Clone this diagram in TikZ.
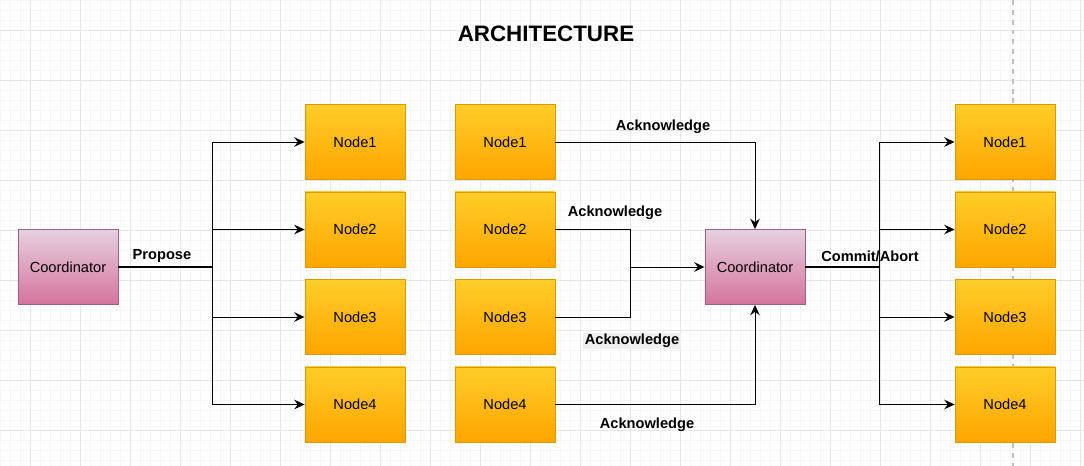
\documentclass[tikz,border=0pt]{standalone}
\usepackage{fontspec}
\setmainfont{Liberation Sans}
\usetikzlibrary{arrows.meta}

\definecolor{coordtop}{HTML}{E6D0DE}
\definecolor{coordbot}{HTML}{D5739D}
\definecolor{coordline}{HTML}{996185}
\definecolor{peertop}{HTML}{FFCD28}
\definecolor{peerbot}{HTML}{FFA500}
\definecolor{peerline}{HTML}{D79B00}
\definecolor{minorgrid}{HTML}{F5F5F5}
\definecolor{majorgrid}{HTML}{E6E6E6}
\definecolor{ackbg}{HTML}{EFEFEF}

\tikzset{
    coordbox/.style={draw=coordline, top color=coordtop, bottom color=coordbot,
        minimum width=2.5cm, minimum height=1.875cm, line width=0.6pt,
        font=\fontsize{10.4}{12}\selectfont},
    peerbox/.style={draw=peerline, top color=peertop, bottom color=peerbot,
        minimum width=2.5cm, minimum height=1.875cm, line width=0.6pt,
        font=\fontsize{10.4}{12}\selectfont},
    lbl/.style={font=\bfseries\fontsize{10.4}{12}\selectfont, inner sep=1pt},
    flow/.style={line width=0.7pt, -{Stealth[length=2.6mm,width=2.4mm,inset=0.9mm]}},
    wire/.style={line width=0.7pt}
}

\begin{document}
\begin{tikzpicture}[x=0.025cm,y=-0.025cm]
    \useasboundingbox (0,0) rectangle (1084,466);
    \fill[white] (0,0) rectangle (1084,466);

    % Background grid
    \foreach \gx in {0,10,...,1080}
        \draw[minorgrid, line width=0.5pt] (\gx,0) -- (\gx,466);
    \foreach \gy in {0,10,...,460}
        \draw[minorgrid, line width=0.5pt] (0,\gy) -- (1084,\gy);
    \foreach \gx in {30,80,...,1080}
        \draw[majorgrid, line width=0.6pt] (\gx,0) -- (\gx,466);
    \foreach \gy in {30,80,...,430}
        \draw[majorgrid, line width=0.6pt] (0,\gy) -- (1084,\gy);
    \draw[black!25, line width=0.8pt, dash pattern=on 3.5pt off 3.5pt] (1013,0) -- (1013,466);

    % Title
    \node[font=\bfseries\fontsize{15.9}{18}\selectfont] (title) at (546,34) {ARCHITECTURE};

    % Phase 1: coordinator proposes
    \node[coordbox] (coordL) at (68,267) {Coordinator};
    \node[peerbox] (pa1) at (355,142) {Node1};
    \node[peerbox] (pa2) at (355,229.5) {Node2};
    \node[peerbox] (pa3) at (355,317) {Node3};
    \node[peerbox] (pa4) at (355,404.5) {Node4};
    \coordinate (busL) at (212,267);
    \draw[wire, line width=1.2pt] (coordL.east) -- (busL);
    \foreach \i in {1,...,4}
        \draw[flow] (busL) |- (pa\i.west);
    \node[lbl] (propose) at (162,256) {Propose};

    % Phase 2: nodes acknowledge
    \node[peerbox] (ack1) at (505,142) {Node1};
    \node[peerbox] (ack2) at (505,229.5) {Node2};
    \node[peerbox] (ack3) at (505,317) {Node3};
    \node[peerbox] (ack4) at (505,404.5) {Node4};
    \node[coordbox] (coordM) at (755,267) {Coordinator};
    \coordinate (busM) at (630,267);
    \draw[flow] (ack1.east) -| (coordM.north);
    \draw[wire] (ack2.east) -| (busM);
    \draw[wire] (ack3.east) -| (busM);
    \draw[flow] (busM) -- (coordM.west);
    \draw[flow] (ack4.east) -| (coordM.south);
    \node[lbl] (ackA) at (663,127) {Acknowledge};
    \node[lbl] (ackB) at (615,213) {Acknowledge};
    \node[lbl, fill=ackbg] (ackC) at (632,341) {Acknowledge};
    \node[lbl] (ackD) at (647,425) {Acknowledge};

    % Phase 3: commit or abort
    \node[peerbox] (cm1) at (1005,142) {Node1};
    \node[peerbox] (cm2) at (1005,229.5) {Node2};
    \node[peerbox] (cm3) at (1005,317) {Node3};
    \node[peerbox] (cm4) at (1005,404.5) {Node4};
    \coordinate (busR) at (879,267);
    \draw[wire, line width=1.2pt] (coordM.east) -- (busR);
    \foreach \i in {1,...,4}
        \draw[flow] (busR) |- (cm\i.west);
    \node[lbl] (commit) at (870,256) {Commit/Abort};
\end{tikzpicture}
\end{document}
